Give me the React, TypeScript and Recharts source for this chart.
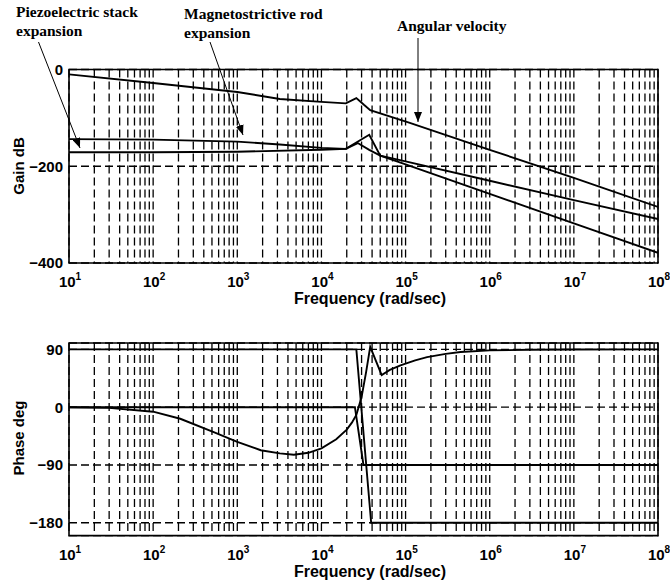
import React from "react";
import {
  LineChart,
  Line,
  XAxis,
  YAxis,
  CartesianGrid,
  ReferenceArea,
} from "recharts";

// tick positions: every 1..9 x 10^n between 10 and 1e8 (grid), labels only on decades
const MULTS = [1, 2, 3, 4, 5, 6, 7, 8, 9];
const DECADE_EXPS = [1, 2, 3, 4, 5, 6, 7];
const FREQ_TICKS = [...DECADE_EXPS.flatMap((e) => MULTS.map((m) => m * 10 ** e)), 1e8];

const GAIN_TICKS = [0, -200, -400];
const PHASE_TICKS = [90, 0, -90, -180];

// gain (dB) — angular velocity
const avFreq = [10, 100, 1e3, 3.2e3, 1e4, 1.95e4, 2.6e4, 3.2e4, 3.8e4, 1.1e5, 1e6, 1e7, 1e8];
const avGain = [-10, -28, -46.5, -61, -67, -70, -59, -73, -84, -110, -166, -224, -284];

// gain (dB) — magnetostrictive rod expansion
const mgFreq = [10, 100, 1e3, 3.2e3, 1e4, 1.95e4, 3.7e4, 5e4, 1e5, 1e6, 1e7, 1e8];
const mgGain = [-144, -145, -149, -155, -162, -164, -135, -178, -190, -230, -270, -309];

// gain (dB) — piezoelectric stack expansion
const pzFreq = [10, 100, 1e3, 1e4, 1.95e4, 2.7e4, 3.7e4, 5e4, 1e5, 1e6, 1e7, 1e8];
const pzGain = [-171, -171, -170, -166, -164, -152, -166, -178, -196, -257, -318, -379];

// phase (deg)
const phAFreq = [10, 2.6e4, 3.9e4, 1e8];
const phA = [90, 90, -180, -180];
const phBFreq = [10, 2.5e4, 3.16e4, 1e8];
const phB = [0, 0, -90, -90];
const phCFreq = [
  10, 30, 100, 210, 525, 1e3, 1.9e3, 3.2e3, 4.7e3, 7e3, 1e4, 1.5e4, 2e4, 2.3e4,
  2.6e4, 3e4, 3.4e4, 3.8e4, 5.2e4, 6.5e4, 8.7e4, 1.3e5, 1.8e5, 3e5, 4.5e5, 1e6,
  3e6, 1e7, 1e8,
];
const phC = [
  0, -1, -7, -18, -39, -54, -67, -72, -74, -71, -64, -50, -35, -24,
  -12, 16, 55, 94, 50, 58, 65, 73, 78, 83, 86, 88.5,
  89.5, 89.8, 90,
];

const toRows = (f: number[], v: number[]) => f.map((x, i) => ({ f: x, v: v[i] }));

const SANS = "'Liberation Sans', Arial, Helvetica, sans-serif";
const SERIF = "'Liberation Serif', 'Times New Roman', serif";

const FreqTick = (props: any) => {
  const { x, y, payload } = props;
  const v = payload.value as number;
  const exp = Math.round(Math.log10(v));
  if (Math.abs(v - 10 ** exp) > 1e-6 * v) return <g />;
  return (
    <text
      x={x + 1}
      y={y + 24}
      textAnchor="middle"
      fontFamily={SANS}
      fontWeight="bold"
      fontSize={15}
      fill="#000"
    >
      <tspan>10</tspan>
      <tspan dy={-7} fontSize={10}>
        {exp}
      </tspan>
    </text>
  );
};

const minus = (v: number) => String(v).replace("-", "\u2212");

function BodePanel({
  height,
  top,
  axisH,
  yDomain,
  yTicks,
  series,
}: {
  height: number;
  top: number;
  axisH: number;
  yDomain: [number, number];
  yTicks: number[];
  series: { f: number; v: number }[][];
}) {
  return (
    <LineChart
      width={670}
      height={height}
      margin={{ top, right: 12, bottom: 0, left: 9 }}
    >
      <CartesianGrid stroke="#000" strokeWidth={1.3} strokeDasharray="8 4" />
      <XAxis
        dataKey="f"
        type="number"
        scale="log"
        domain={[10, 1e8]}
        ticks={FREQ_TICKS}
        interval={0}
        allowDataOverflow
        axisLine={false}
        tickLine={false}
        tickSize={0}
        tickMargin={0}
        height={axisH}
        tick={<FreqTick />}
      />
      <YAxis
        type="number"
        domain={yDomain}
        ticks={yTicks}
        interval={0}
        allowDataOverflow
        width={60}
        axisLine={false}
        tickLine={false}
        tickSize={0}
        tickMargin={6}
        tickFormatter={minus}
        tick={{ fill: "#000", fontSize: 15, fontWeight: "bold", fontFamily: SANS }}
      />
      <ReferenceArea
        x1={10}
        x2={1e8}
        y1={yDomain[0]}
        y2={yDomain[1]}
        fill="none"
        fillOpacity={0}
        stroke="#000"
        strokeWidth={1.6}
      />
      {series.map((d, i) => (
        <Line
          key={i}
          data={d}
          dataKey="v"
          type="linear"
          stroke="#000"
          strokeWidth={1.9}
          dot={false}
          activeDot={false}
          isAnimationActive={false}
        />
      ))}
    </LineChart>
  );
}

export default function App() {
  const gainSeries = [toRows(avFreq, avGain), toRows(mgFreq, mgGain), toRows(pzFreq, pzGain)];
  const phaseSeries = [toRows(phAFreq, phA), toRows(phBFreq, phB), toRows(phCFreq, phC)];

  return (
    <div
      style={{
        position: "absolute",
        left: 0,
        top: 0,
        width: 670,
        height: 580,
        background: "#fff",
        overflow: "hidden",
      }}
    >
      <div style={{ position: "absolute", left: 0, top: 0 }}>
        <BodePanel
          height={310}
          top={69.5}
          axisH={47}
          yDomain={[-400, 0]}
          yTicks={GAIN_TICKS}
          series={gainSeries}
        />
      </div>
      <div style={{ position: "absolute", left: 0, top: 300 }}>
        <BodePanel
          height={280}
          top={43}
          axisH={44.4}
          yDomain={[-200, 100]}
          yTicks={PHASE_TICKS}
          series={phaseSeries}
        />
      </div>

      {/* titles and annotations */}
      <svg
        width={670}
        height={580}
        style={{ position: "absolute", left: 0, top: 0, pointerEvents: "none" }}
      >
        <defs>
          <marker
            id="ah"
            markerWidth="10"
            markerHeight="8"
            refX="10"
            refY="4"
            orient="auto"
            markerUnits="userSpaceOnUse"
          >
            <path d="M0,0 L10,4 L0,8 z" fill="#000" />
          </marker>
        </defs>

        <g fontFamily={SANS} fontWeight="bold" fontSize={16} fill="#000">
          <text x={370} y={304} textAnchor="middle">
            Frequency (rad/sec)
          </text>
          <text x={370} y={577} textAnchor="middle">
            Frequency (rad/sec)
          </text>
          <text
            x={0}
            y={0}
            textAnchor="middle"
            transform="translate(24,166) rotate(-90)"
            fontSize={15}
          >
            Gain dB
          </text>
          <text
            x={0}
            y={0}
            textAnchor="middle"
            transform="translate(24,438) rotate(-90)"
            fontSize={15}
          >
            Phase deg
          </text>
        </g>

        <g fontFamily={SERIF} fontWeight="bold" fontSize={15.5} fill="#000">
          <text x={16} y={17}>Piezoelectric stack</text>
          <text x={16} y={36}>expansion</text>
          <text x={184} y={19}>Magnetostrictive rod</text>
          <text x={184} y={38}>expansion</text>
          <text x={397} y={31}>Angular velocity</text>
        </g>

        <g stroke="#000" strokeWidth={1}>
          <line x1={38.5} y1={42} x2={80} y2={148} markerEnd="url(#ah)" />
          <line x1={210} y1={42} x2={243} y2={135} markerEnd="url(#ah)" />
          <line x1={418} y1={38} x2={418} y2={122} markerEnd="url(#ah)" />
        </g>
      </svg>
    </div>
  );
}
